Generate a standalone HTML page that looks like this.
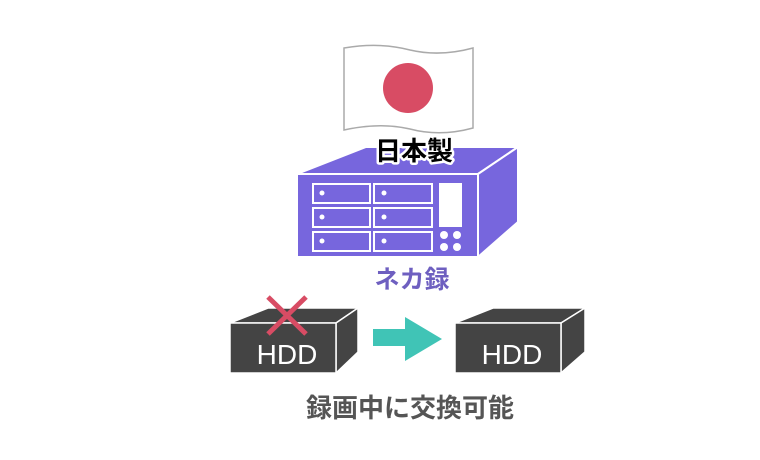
<!DOCTYPE html>
<html><head><meta charset="utf-8"><style>
body{margin:0;background:#fff;width:760px;height:460px;overflow:hidden}
svg{display:block}
text{font-family:"Liberation Sans","Noto Sans CJK JP",sans-serif}
</style></head><body>
<svg width="760" height="460" viewBox="0 0 760 460">
<path d="M344,48 Q380,42 410,50 Q440,57 473,48 L473,128 Q440,137 410,129 Q380,122 344,130 Z" fill="#fff" stroke="#aaa" stroke-width="1.5"/>
<circle cx="408" cy="88" r="25" fill="#d84c64"/>
<g stroke="#fff" stroke-width="2" fill="#7766dd" stroke-linejoin="round">
<path d="M297,174 L366,147 L518,147 L478,174 Z"/>
<path d="M478,174 L518,147 L518,222 L478,257 Z"/>
<rect x="297" y="174" width="181" height="83"/>
</g>
<g fill="none" stroke="#fff" stroke-width="2">
<rect x="313" y="184" width="57" height="19"/><rect x="374" y="184" width="58" height="19"/>
<rect x="313" y="208" width="57" height="19"/><rect x="374" y="208" width="58" height="19"/>
<rect x="313" y="232" width="57" height="19"/><rect x="374" y="232" width="58" height="19"/>
</g>
<g fill="#fff">
<rect x="439" y="183" width="23" height="44"/>
<circle cx="322" cy="193" r="2.5"/><circle cx="384" cy="193" r="2.5"/>
<circle cx="322" cy="217" r="2.5"/><circle cx="384" cy="217" r="2.5"/>
<circle cx="322" cy="241" r="2.5"/><circle cx="384" cy="241" r="2.5"/>
<circle cx="444" cy="235" r="4"/><circle cx="457" cy="235" r="4"/>
<circle cx="444" cy="247" r="4"/><circle cx="457" cy="247" r="4"/>
</g>
<text x="414" y="160" font-size="26" font-weight="bold" text-anchor="middle" fill="#000" stroke="#fff" stroke-width="5" paint-order="stroke" stroke-linejoin="round">日本製</text>
<text x="412" y="288" font-size="25" font-weight="bold" text-anchor="middle" fill="#6e5fc0">ネカ録</text>
<g stroke="#fff" stroke-width="1.5" fill="#444" stroke-linejoin="round">
<path d="M230,323 L268,308 L358,308 L336,323 Z"/>
<path d="M336,323 L358,308 L358,352 L336,373 Z"/>
<rect x="230" y="323" width="106" height="50"/>
<path d="M455,323 L493,308 L585,308 L561,323 Z"/>
<path d="M561,323 L585,308 L585,352 L561,373 Z"/>
<rect x="455" y="323" width="106" height="50"/>
</g>
<line x1="268" y1="297" x2="306" y2="334" stroke="#d84c64" stroke-width="5"/>
<line x1="306" y1="297" x2="268" y2="334" stroke="#d84c64" stroke-width="5"/>
<text x="287" y="364" font-size="28" text-anchor="middle" fill="#fff">HDD</text>
<text x="512" y="364" font-size="28" text-anchor="middle" fill="#fff">HDD</text>
<path d="M373,329 L405,329 L405,317 L442,339 L405,361 L405,346 L373,346 Z" fill="#40c4b6"/>
<text x="410" y="417" font-size="26" font-weight="bold" text-anchor="middle" fill="#555">録画中に交換可能</text>
</svg>
</body></html>
